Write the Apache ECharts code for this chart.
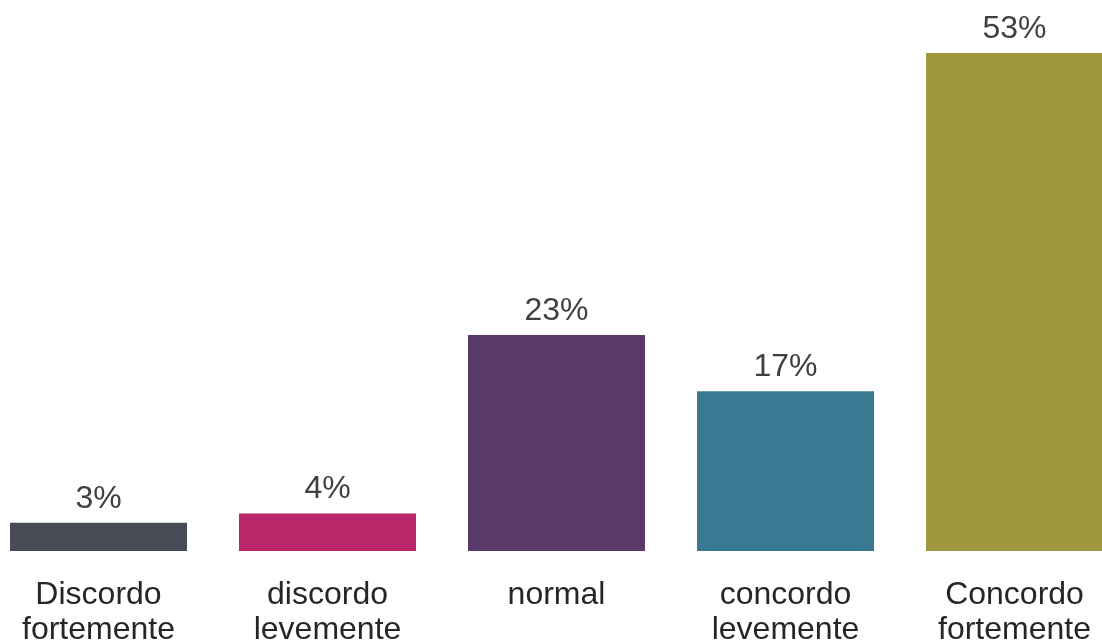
<!DOCTYPE html>
<html>
<head>
<meta charset="utf-8">
<script src="https://cdn.jsdelivr.net/npm/echarts@6/dist/echarts.min.js"></script>
<style>html,body{margin:0;padding:0;background:#fff;overflow:hidden;}#c{position:absolute;left:-16px;top:0;width:1145px;height:641px;}</style>
</head>
<body>
<div id="c"></div>
<script>
const categories = ["Discordo\nfortemente", "discordo\nlevemente", "normal", "concordo\nlevemente", "Concordo\nfortemente"];
const values = [3, 4, 23, 17, 53];
const colors = ["#474B55", "#BA2669", "#5A3A6B", "#377A91", "#A0983E"];

const chart = echarts.init(document.getElementById('c'), null, {renderer: 'canvas', width: 1145, height: 641});
chart.setOption({
  animation: false,
  grid: {left: 0, right: 0, top: 53, bottom: 90, containLabel: false, outerBoundsMode: 'none'},
  xAxis: {
    type: 'category',
    data: categories,
    axisLine: {show: false},
    axisTick: {show: false},
    axisLabel: {
      interval: 0,
      margin: 27,
      fontFamily: 'Liberation Sans, Arial, sans-serif',
      fontSize: 32,
      lineHeight: 35,
      color: '#262626',
      verticalAlign: 'top'
    }
  },
  yAxis: {
    type: 'value', min: 0, max: 53,
    show: false,
    splitLine: {show: false}
  },
  series: [{
    type: 'bar',
    barWidth: 177,
    data: values.map((v, i) => ({value: v, itemStyle: {color: colors[i]}})),
    label: {
      show: true,
      position: 'top',
      distance: 8,
      formatter: p => p.value + '%',
      fontFamily: 'Liberation Sans, Arial, sans-serif',
      fontSize: 32,
      color: '#404040'
    }
  }]
});
</script>
</body>
</html>
